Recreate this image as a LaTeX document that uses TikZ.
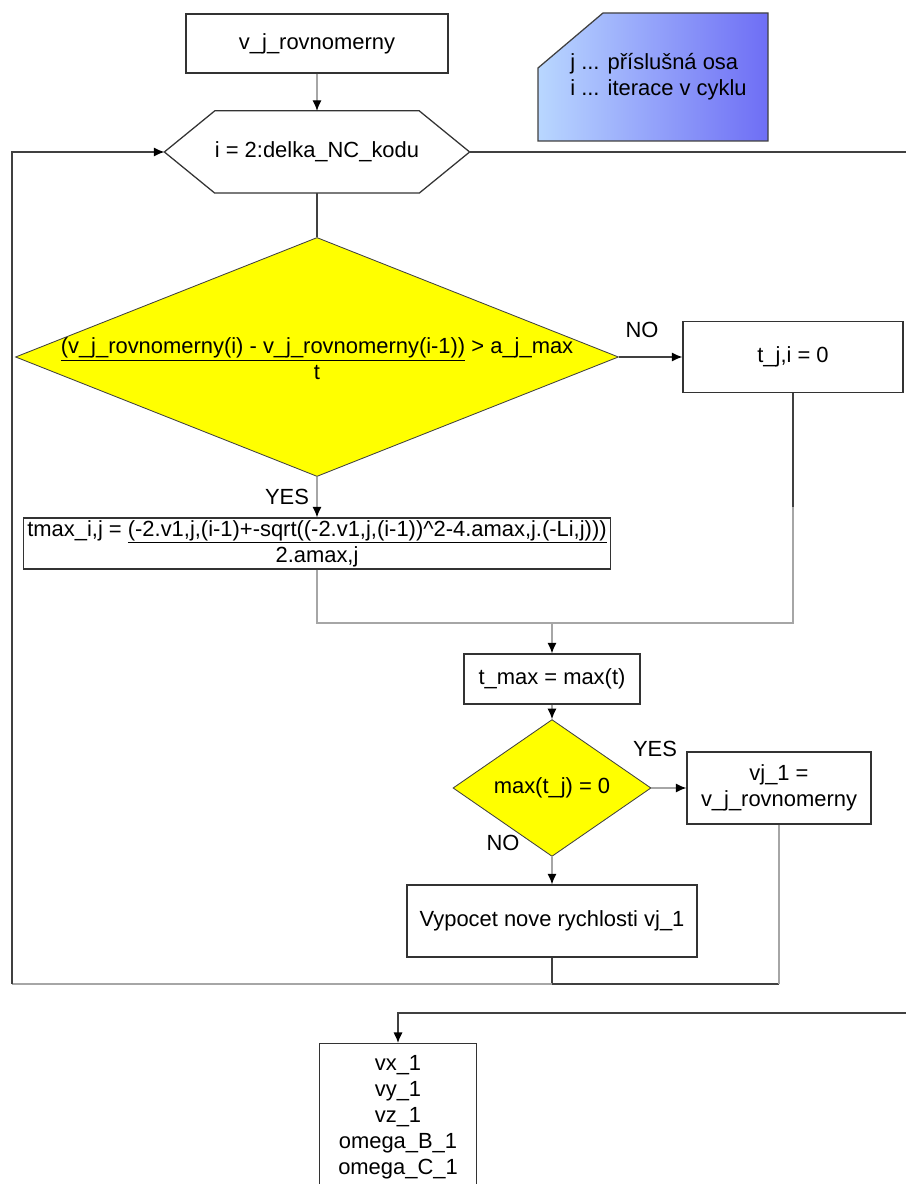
\documentclass[tikz,border=0pt]{standalone}
\usepackage{fontspec}
\setmainfont{Liberation Sans}
\usetikzlibrary{%
  arrows.meta,%
  shapes.geometric,% diamond
  positioning%
}
\definecolor{noteleft}{RGB}{185,215,255}
\definecolor{noteright}{RGB}{110,110,245}
\definecolor{decisionfill}{RGB}{255,255,0}

\begin{document}
\begin{tikzpicture}
[line width=0.9pt, >={Latex[length=7.5pt,width=6.5pt,color=black]},
font=\fontsize{15.6pt}{18.5pt}\selectfont,
process/.style={rectangle, draw=black!80, fill=white, inner sep=0pt, align=center},
decision/.style={diamond, draw=black!75, fill=decisionfill, inner sep=0pt, line width=0.6pt},
loophead/.style={rectangle, inner sep=0pt, minimum width=7.6cm, minimum height=2.025cm},
darkline/.style={draw=black!75},
grayline/.style={draw=black!35}]

\useasboundingbox (0,0) rectangle (22.625,29.6);

% legend
\draw[left color=noteleft, right color=noteright, draw=black!75]
  (13.45,26.075) -- (13.45,27.9) -- (15.075,29.275) -- (19.2,29.275) -- (19.2,26.075) -- cycle;
\node[align=left, anchor=west] (legend) at (14.125,27.675) {j ... příslušná osa\\i ... iterace v cyklu};

\node[process, minimum width=6.55cm, minimum height=1.475cm] (start) at (7.925,28.5125) {v\_j\_rovnomerny};

% loop over the NC code
\node[loophead] (loop) at (7.925,25.8) {i = 2:delka\_NC\_kodu};
\draw[draw=black!80] (loop.west) -- ([xshift=1.26cm]loop.north west) -- ([xshift=-1.26cm]loop.north east)
  -- (loop.east) -- ([xshift=-1.26cm]loop.south east) -- ([xshift=1.26cm]loop.south west) -- cycle;

\node[decision, minimum width=15.075cm, minimum height=5.975cm] (cond1) at (7.925,20.675) {};
\node[align=center] (cond1txt) at ([yshift=-0.05cm]cond1.center)
  {\underline{(v\_j\_rovnomerny(i) - v\_j\_rovnomerny(i-1))} > a\_j\_max\\t};
\node[process, minimum width=5.5cm, minimum height=1.775cm] (tzero) at (19.825,20.675) {t\_j,i = 0};
\node (no1) at (16.05,21.35) {NO};
\node (yes1) at (7.175,17.175) {YES};
\node[process, minimum width=14.675cm, minimum height=1.275cm] (tmaxij) at (7.925,16.0125)
  {tmax\_i,j = \underline{(-2.v1,j,(i-1)+-sqrt((-2.v1,j,(i-1))\textasciicircum2-4.amax,j.(-Li,j)))}\\2.amax,j};

\coordinate (join) at (13.8,14.025);
\node[process, minimum width=4.4cm, minimum height=1.25cm] (tmax) at (13.8,12.625) {t\_max = max(t)};
\node[decision, minimum width=4.95cm, minimum height=1.85cm] (cond2) at (13.8,9.9) {max(t\_j) = 0};
\node (yes2) at (16.375,10.875) {YES};
\node[process, minimum width=4.6cm, minimum height=1.8cm] (vjset) at (19.475,9.9) {vj\_1 =\\v\_j\_rovnomerny};
\node (no2) at (12.575,8.525) {NO};
\node[process, minimum width=7.25cm, minimum height=1.8cm] (newvel) at (13.8,6.575) {Vypocet nove rychlosti vj\_1};

\coordinate (back) at (13.8,5.0);
\coordinate (return) at (0.3,5.0);
\coordinate (exit) at (23.2,4.275);
\node[process, anchor=north, minimum width=3.925cm, minimum height=3.7cm] (result) at (9.95,3.525)
  {vx\_1\\vy\_1\\vz\_1\\omega\_B\_1\\omega\_C\_1};

% connectors
\draw[grayline,->] (start) -- (loop.north);
\draw[darkline] (loop.south) -- (cond1.north);
\draw[darkline,->] (cond1.east) -- (tzero.west);
\draw[grayline,->] (cond1.south) -- (tmaxij.north);
\draw[grayline] (tmaxij.south) |- (join);
\draw[darkline] (tzero.south) -- ++(0,-2.85) coordinate (tzmid);
\draw[grayline] (tzmid) |- (join);
\draw[grayline,->] (join) -- (tmax.north);
\draw[grayline,->] (tmax.south) -- (cond2.north);
\draw[grayline,->] (cond2.east) -- (vjset.west);
\draw[grayline,->] (cond2.south) -- (newvel.north);
\draw[darkline] (newvel.south) -- (back) -- (back -| vjset.south);
\draw[grayline] (vjset.south) -- (back -| vjset.south);
\draw[grayline] (back) -- (return);
\draw[darkline,->] (return) |- (loop.west);
\draw[darkline,->] (loop.east) -| (exit) -| (result.north);
\end{tikzpicture}
\end{document}
